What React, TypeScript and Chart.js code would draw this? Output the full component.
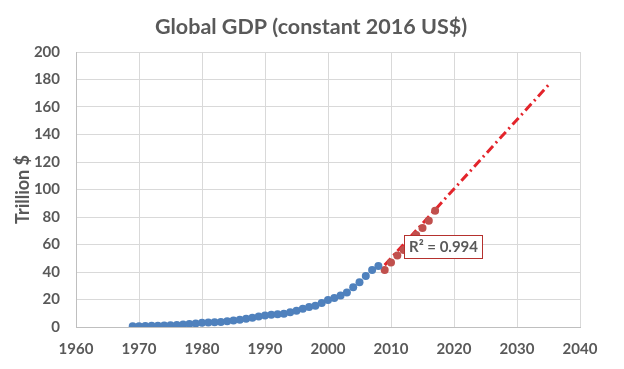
import React, { useEffect, useRef } from 'react';
import { Chart, registerables } from 'chart.js';

Chart.register(...registerables);

const histYears = [
  1969, 1970, 1971, 1972, 1973, 1974, 1975, 1976, 1977, 1978,
  1979, 1980, 1981, 1982, 1983, 1984, 1985, 1986, 1987, 1988,
  1989, 1990, 1991, 1992, 1993, 1994, 1995, 1996, 1997, 1998,
  1999, 2000, 2001, 2002, 2003, 2004, 2005, 2006, 2007, 2008,
];
const histValues = [
  0.5, 0.6, 0.7, 0.9, 1.0, 1.1, 1.2, 1.5, 1.8, 2.2,
  2.6, 3.1, 3.3, 3.4, 3.6, 4.2, 4.7, 5.3, 6.0, 6.8,
  7.6, 8.4, 8.9, 9.3, 9.7, 10.8, 11.8, 13.2, 14.6, 15.4,
  17.5, 19.6, 21.1, 22.9, 25.1, 28.9, 32.5, 37.1, 41.5, 44.4,
];
const recentYears = [2009, 2010, 2011, 2012, 2013, 2014, 2015, 2016, 2017];
const recentValues = [41.5, 47.0, 52.0, 56.0, 61.5, 67.0, 72.0, 77.3, 84.6];
const trendYears = [2009, 2035];
const trendValues = [45, 176];

const xMin = 1960;
const xMax = 2040;
const xStep = 10;
const yMin = 0;
const yMax = 200;
const yStep = 20;

const titleText = 'Global GDP (constant 2016 US$)';
const yAxisTitle = 'Trillion $';
const r2Label = 'R² = 0.994';

const FONT = 'Lato, "Open Sans", sans-serif';
const GRAY = '#595959';

const titlePlugin = {
  id: 'customTitle',
  afterDraw(chart: any) {
    const { ctx } = chart;
    ctx.save();
    ctx.font = `bold 21.5px ${FONT}`;
    ctx.fillStyle = GRAY;
    ctx.textAlign = 'center';
    ctx.textBaseline = 'middle';
    ctx.fillText(titleText, 311, 27);
    ctx.restore();
  },
};

const r2Plugin = {
  id: 'r2box',
  afterDatasetsDraw(chart: any) {
    const { ctx, scales } = chart;
    const left = Math.round(scales.x.getPixelForValue(2012.1));
    const top = Math.round(scales.y.getPixelForValue(67));
    ctx.save();
    ctx.font = `bold 15px ${FONT}`;
    const w = Math.round(ctx.measureText(r2Label).width + 9);
    const h = 23;
    ctx.fillStyle = '#ffffff';
    ctx.fillRect(left, top, w, h);
    ctx.strokeStyle = '#B5312E';
    ctx.lineWidth = 1;
    ctx.strokeRect(left + 0.5, top + 0.5, w, h);
    ctx.fillStyle = GRAY;
    ctx.textBaseline = 'middle';
    ctx.textAlign = 'left';
    ctx.fillText(r2Label, left + 5, top + h / 2 + 1);
    ctx.restore();
  },
};

export default function App() {
  const ref = useRef<HTMLCanvasElement | null>(null);

  useEffect(() => {
    if (!ref.current) return;
    const chart = new Chart(ref.current, {
      type: 'scatter',
      data: {
        datasets: [
          {
            label: 'Historical',
            data: histYears.map((x, i) => ({ x, y: histValues[i] })),
            backgroundColor: '#4F81BD',
            borderColor: '#4F81BD',
            pointRadius: 4,
            borderWidth: 0,
            showLine: false,
            order: 1,
          },
          {
            label: 'Recent',
            data: recentYears.map((x, i) => ({ x, y: recentValues[i] })),
            backgroundColor: '#C0504D',
            borderColor: '#C0504D',
            pointRadius: 4,
            borderWidth: 0,
            showLine: false,
            order: 1,
          },
          {
            label: 'Trend',
            data: trendYears.map((x, i) => ({ x, y: trendValues[i] })),
            borderColor: '#E3242B',
            backgroundColor: '#E3242B',
            borderWidth: 3,
            borderDash: [9, 4, 2, 4],
            pointRadius: 0,
            showLine: true,
            order: 2,
          },
        ],
      },
      options: {
        responsive: false,
        animation: false,
        devicePixelRatio: 1,
        layout: { padding: { left: 0, right: 44, top: 52, bottom: 0 } },
        plugins: {
          legend: { display: false },
          tooltip: { enabled: false },
          title: { display: false },
        },
        scales: {
          x: {
            type: 'linear',
            min: xMin,
            max: xMax,
            ticks: {
              stepSize: xStep,
              color: GRAY,
              font: { family: FONT, size: 15, weight: 'bold' },
              padding: 13,
              maxRotation: 0,
              callback: (v: any) => String(v),
            },
            grid: { color: '#D9D9D9', drawTicks: false },
            border: { color: '#BFBFBF' },
            afterFit: (s: any) => {
              s.height = 42;
            },
          },
          y: {
            type: 'linear',
            min: yMin,
            max: yMax,
            ticks: {
              stepSize: yStep,
              color: GRAY,
              font: { family: FONT, size: 15, weight: 'bold' },
              padding: 16,
            },
            grid: { color: '#D9D9D9', drawTicks: false },
            border: { color: '#BFBFBF' },
            title: {
              display: true,
              text: yAxisTitle,
              color: GRAY,
              font: { family: FONT, size: 18, weight: 'bold' },
              padding: { top: 12, bottom: 0 },
            },
            afterFit: (s: any) => {
              s.width = 76;
            },
          },
        },
      },
      plugins: [r2Plugin, titlePlugin],
    } as any);
    return () => chart.destroy();
  }, []);

  return (
    <div style={{ position: 'absolute', left: 0, top: 0, width: 624, height: 369, background: '#fff' }}>
      <canvas ref={ref} width={624} height={369} />
    </div>
  );
}
